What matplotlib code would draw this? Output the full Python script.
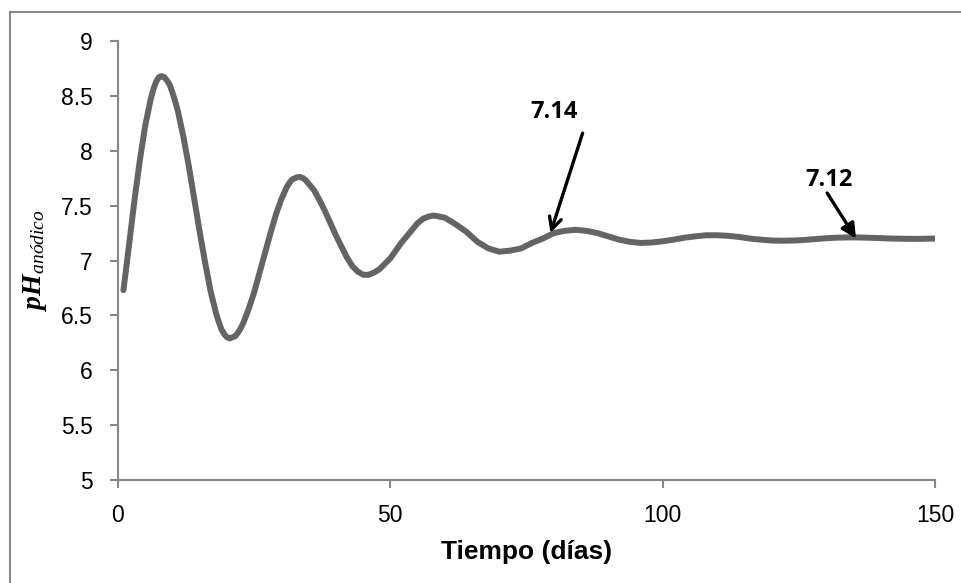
import matplotlib
matplotlib.use("Agg")
import matplotlib.pyplot as plt
from matplotlib.patches import Rectangle

# ==================== DATA ====================

dias = [1, 2, 3, 4, 5, 6, 6.5, 7, 7.5, 8, 8.5, 9, 9.5, 10, 10.5, 11, 12, 13,
        14, 15, 16, 17, 18, 18.5, 19, 19.5, 20, 20.5, 21, 21.5, 22, 22.5, 23,
        24, 25, 26, 27, 28, 29, 30, 31, 31.5, 32, 32.5, 33, 33.5, 34, 34.5, 35,
        36, 37, 38, 39, 40, 41, 42, 43, 44, 45, 46, 47, 48, 49, 50, 51, 52, 53,
        54, 55, 56, 57, 58, 60, 62, 64, 66, 68, 70, 72, 74, 76, 78, 80, 82, 84,
        86, 88, 90, 92, 94, 96, 98, 100, 102, 104, 106, 108, 110, 112, 114,
        116, 118, 120, 122, 124, 126, 128, 130, 132, 134, 136, 138, 140, 142,
        144, 146, 148, 150]

ph_anodico = [6.73, 7.13, 7.54, 7.91, 8.23, 8.47, 8.56, 8.63, 8.67, 8.68, 8.67,
              8.64, 8.60, 8.53, 8.45, 8.36, 8.13, 7.86, 7.56, 7.26, 6.98, 6.72,
              6.52, 6.44, 6.37, 6.33, 6.30, 6.29, 6.30, 6.31, 6.34, 6.38, 6.43,
              6.56, 6.71, 6.89, 7.07, 7.25, 7.42, 7.56, 7.67, 7.71, 7.74, 7.75,
              7.76, 7.76, 7.75, 7.73, 7.70, 7.64, 7.55, 7.45, 7.34, 7.23, 7.13,
              7.03, 6.95, 6.90, 6.87, 6.87, 6.89, 6.92, 6.97, 7.02, 7.09, 7.16,
              7.22, 7.28, 7.34, 7.38, 7.40, 7.41, 7.39, 7.33, 7.26, 7.17, 7.11,
              7.08, 7.09, 7.11, 7.16, 7.20, 7.25, 7.27, 7.28, 7.27, 7.25, 7.22,
              7.19, 7.17, 7.16, 7.164, 7.175, 7.19, 7.208, 7.22, 7.23, 7.23,
              7.225, 7.215, 7.20, 7.19, 7.182, 7.18, 7.182, 7.187, 7.195, 7.203,
              7.208, 7.21, 7.21, 7.207, 7.204, 7.20, 7.198, 7.197, 7.198, 7.20]

x_ticks = [0, 50, 100, 150]
y_ticks = [5, 5.5, 6, 6.5, 7, 7.5, 8, 8.5, 9]
y_tick_labels = ["5", "5.5", "6", "6.5", "7", "7.5", "8", "8.5", "9"]

# annotations: label, text position, arrow start, arrow tip
notas = ["7.14", "7.12"]
notas_texto = [(80.1, 8.35), (130.6, 7.73)]
notas_inicio = [(85.3, 8.16), (130.2, 7.615)]
notas_punta = [(79.4, 7.25), (135.5, 7.20)]
notas_flecha = ['->', '-|>']

# ==================== FIGURE ====================

plt.rcParams['font.family'] = ['Liberation Sans', 'DejaVu Sans']
plt.rcParams['mathtext.fontset'] = 'custom'
plt.rcParams['mathtext.rm'] = 'Liberation Serif'
plt.rcParams['mathtext.it'] = 'Liberation Serif:italic'
plt.rcParams['mathtext.bf'] = 'Liberation Serif:bold'
plt.rcParams['mathtext.bfit'] = 'Liberation Serif:italic:bold'

fig = plt.figure(figsize=(9.62, 5.83), dpi=100)
ax = fig.add_axes([118 / 962, 1 - 480 / 583, (935 - 118) / 962, (480 - 41) / 583])

# outer chart border
fig.patches.append(Rectangle((10 / 962, -0.05), 1.0, 1 - 12 / 583 + 0.05,
                             transform=fig.transFigure, fill=False,
                             edgecolor='#888888', linewidth=1.5))

ax.plot(dias, ph_anodico, color='#646464', linewidth=4.3,
        solid_capstyle='round', solid_joinstyle='round')

ax.set_xlim(0, 150)
ax.set_ylim(5, 9)
ax.set_xticks(x_ticks)
ax.set_yticks(y_ticks)
ax.set_yticklabels(y_tick_labels)

for s in ['top', 'right']:
    ax.spines[s].set_visible(False)
for s in ['left', 'bottom']:
    ax.spines[s].set_color('#888888')
    ax.spines[s].set_linewidth(1.5)

ax.tick_params(axis='both', colors='#888888', labelcolor='black',
               labelsize=16.5, width=1.5, length=6, direction='out')
ax.tick_params(axis='x', pad=11)
ax.tick_params(axis='y', pad=12)

ax.set_xlabel("Tiempo (días)", fontsize=19, fontweight='bold', labelpad=10)
ax.set_ylabel(r"$\mathbfit{pH}_{\mathit{anódico}}$", fontsize=20, labelpad=9)

for txt, pos, ini, fin, est in zip(notas, notas_texto, notas_inicio,
                                   notas_punta, notas_flecha):
    ax.text(pos[0], pos[1], txt, fontsize=17, fontweight='bold',
            family=['Open Sans', 'DejaVu Sans'], ha='center', va='center')
    ax.annotate("", xy=fin, xytext=ini,
                arrowprops=dict(arrowstyle=est, color='black', lw=2.4,
                                mutation_scale=22, shrinkA=0, shrinkB=0))

plt.savefig("out.png", dpi=100)
plt.close()
